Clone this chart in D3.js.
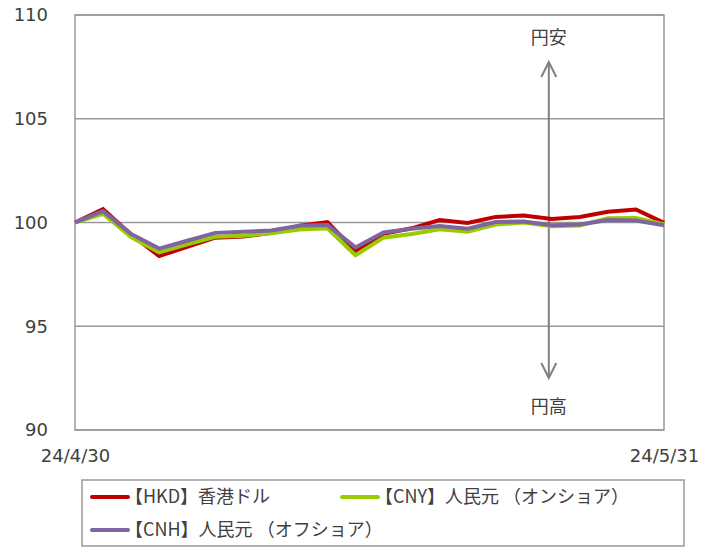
<!DOCTYPE html>
<html>
<head>
<meta charset="utf-8">
<script src="https://cdn.jsdelivr.net/npm/d3@7"></script>
<style>
  body { margin: 0; background: #fff; }
  svg { display: block; }
</style>
</head>
<body>
<script>
// dates (business days) and index values, 2024/4/30 = 100
var dates = ["24/4/30","24/5/1","24/5/2","24/5/7","24/5/8","24/5/9","24/5/10","24/5/13","24/5/14","24/5/15","24/5/16",
             "24/5/17","24/5/20","24/5/21","24/5/22","24/5/23","24/5/24","24/5/27","24/5/28","24/5/29","24/5/30","24/5/31"];
var hkd = [100.0,100.65,99.42,98.38,98.83,99.27,99.32,99.5,99.85,100.02,98.62,
           99.45,99.72,100.12,99.98,100.27,100.34,100.17,100.27,100.52,100.63,99.98];
var cny = [100.0,100.42,99.3,98.56,98.95,99.31,99.36,99.48,99.66,99.72,98.42,
           99.27,99.45,99.67,99.55,99.9,100.0,99.82,99.86,100.2,100.22,99.92];
var cnh = [100.0,100.55,99.45,98.74,99.12,99.5,99.55,99.62,99.84,99.88,98.8,
           99.52,99.7,99.83,99.7,100.02,100.05,99.87,99.9,100.12,100.1,99.87];
var yTicks = [90, 95, 100, 105, 110];
var xTickLabels = ["24/4/30", "24/5/31"];

var seriesNames = ["【HKD】香港ドル", "【CNY】人民元 （オンショア）", "【CNH】人民元 （オフショア）"];
var seriesColors = ["#C00000", "#99CC00", "#8064A2"];
var seriesData = [hkd, cny, cnh];

var W = 718, H = 547;
var margin = {top: 15, right: 54, bottom: 117, left: 75};
var width = W - margin.left - margin.right;
var height = H - margin.top - margin.bottom;

var svg = d3.select("body").append("svg")
    .attr("width", W)
    .attr("height", H);

var g = svg.append("g")
    .attr("transform", "translate(" + margin.left + "," + margin.top + ")");

var x = d3.scalePoint().domain(dates).range([0, width]);
var y = d3.scaleLinear().domain([90, 110]).range([height, 0]);

// gridlines
g.selectAll(".grid")
    .data(yTicks)
    .enter()
    .append("line")
    .attr("x1", 0).attr("x2", width)
    .attr("y1", function(d){ return y(d); })
    .attr("y2", function(d){ return y(d); })
    .attr("stroke", "#999")
    .attr("stroke-width", 1.5);

// plot frame
g.append("rect")
    .attr("width", width).attr("height", height)
    .attr("fill", "none")
    .attr("stroke", "#999")
    .attr("stroke-width", 1.5);

// y axis labels
var yAxis = g.append("g")
    .attr("transform", "translate(-27,0)")
    .call(d3.axisLeft(y).tickValues(yTicks).tickSize(0).tickPadding(0));
yAxis.select(".domain").remove();
yAxis.selectAll("text")
    .attr("font-family", "'DejaVu Sans', Verdana, sans-serif")
    .attr("font-size", 18)
    .attr("fill", "#404040");

// x axis labels (first and last only)
var xAxis = g.append("g")
    .attr("transform", "translate(0," + height + ")")
    .call(d3.axisBottom(x).tickValues(xTickLabels).tickSize(0).tickPadding(19));
xAxis.select(".domain").remove();
xAxis.selectAll("text")
    .attr("font-family", "'DejaVu Sans', Verdana, sans-serif")
    .attr("font-size", 18)
    .attr("fill", "#404040");

// 円安 / 円高 arrow
var ax = x("24/5/27") - 3;
var arrow = g.append("g").attr("stroke", "#808080").attr("stroke-width", 2).attr("fill", "none");
arrow.append("line").attr("x1", ax).attr("x2", ax).attr("y1", 47).attr("y2", 363);
arrow.append("path").attr("d", "M" + (ax - 7.5) + ",62 L" + ax + ",47 L" + (ax + 7.5) + ",62");
arrow.append("path").attr("d", "M" + (ax - 7.5) + ",348 L" + ax + ",363 L" + (ax + 7.5) + ",348");
g.append("text").attr("x", ax).attr("y", 29).attr("text-anchor", "middle")
    .attr("font-family", "'Noto Sans CJK JP', sans-serif").attr("font-size", 18).attr("fill", "#404040")
    .text("円安");
g.append("text").attr("x", ax).attr("y", 398).attr("text-anchor", "middle")
    .attr("font-family", "'Noto Sans CJK JP', sans-serif").attr("font-size", 18).attr("fill", "#404040")
    .text("円高");

// lines
var line = d3.line()
    .x(function(d, i){ return x(dates[i]); })
    .y(function(d){ return y(d); });

g.selectAll(".series")
    .data(seriesData)
    .enter()
    .append("path")
    .attr("class", "series")
    .attr("fill", "none")
    .attr("stroke", function(d, i){ return seriesColors[i]; })
    .attr("stroke-width", 4)
    .attr("stroke-linejoin", "miter")
    .attr("d", line);

// legend
var legend = svg.append("g");
legend.append("rect")
    .attr("x", 82).attr("y", 480).attr("width", 602).attr("height", 66)
    .attr("fill", "#fff").attr("stroke", "#999").attr("stroke-width", 1.5);

var legendPos = [[92, 497], [342, 497], [92, 530]];
var item = legend.selectAll(".item")
    .data(seriesNames)
    .enter()
    .append("g")
    .attr("transform", function(d, i){ return "translate(" + legendPos[i][0] + "," + legendPos[i][1] + ")"; });
item.append("line")
    .attr("x1", 0).attr("x2", 36)
    .attr("stroke", function(d, i){ return seriesColors[i]; })
    .attr("stroke-width", 4)
    .attr("stroke-linecap", "round");
item.append("text")
    .attr("x", 33).attr("dy", "0.35em")
    .attr("font-family", "'Noto Sans CJK JP', sans-serif")
    .attr("font-size", 18)
    .attr("fill", "#404040")
    .text(function(d){ return d; });
</script>
</body>
</html>
